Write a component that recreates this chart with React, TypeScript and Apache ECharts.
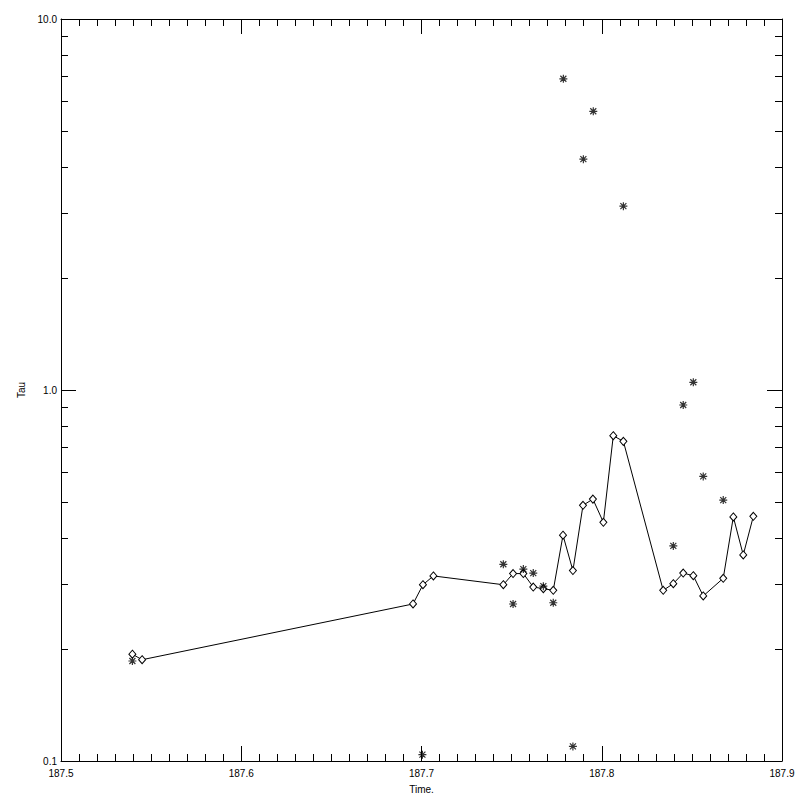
import React, { useEffect, useRef } from "react";
import * as echarts from "echarts";

const X_MIN = 187.5;
const X_MAX = 187.9;
const Y_MIN = 0.1;
const Y_MAX = 10;

// Diamond series (connected line)
const diamondTimes = [
  187.5396, 187.545, 187.6953, 187.7008, 187.7066, 187.7454, 187.7508, 187.7565,
  187.762, 187.7676, 187.7731, 187.7785, 187.784, 187.7896, 187.7951, 187.8009,
  187.8064, 187.812, 187.8341, 187.8397, 187.8452, 187.8508, 187.8563, 187.8674,
  187.873, 187.8785, 187.8841,
];
const diamondTau = [
  0.194, 0.1875, 0.265, 0.2986, 0.3154, 0.2986, 0.32, 0.32,
  0.2944, 0.2914, 0.2884, 0.406, 0.326, 0.489, 0.508, 0.44,
  0.753, 0.727, 0.2884, 0.3006, 0.321, 0.3158, 0.2785, 0.3108,
  0.4548, 0.3593, 0.4566,
];

// Asterisk series (points only)
const starTimes = [
  187.5396, 187.7005, 187.7454, 187.7508, 187.7565, 187.762, 187.7676, 187.7731,
  187.7787, 187.784, 187.7898, 187.7953, 187.812, 187.8397, 187.8452, 187.8508,
  187.8563, 187.8674,
];
const starTau = [
  0.186, 0.104, 0.339, 0.265, 0.329, 0.321, 0.296, 0.267,
  6.9, 0.1095, 4.19, 5.64, 3.13, 0.38, 0.911, 1.049,
  0.585, 0.505,
];

// Log-axis minor tick values
const yMinorTicks = [0.2, 0.3, 0.4, 0.5, 0.6, 0.7, 0.8, 0.9, 2, 3, 4, 5, 6, 7, 8, 9];

const FONT = "Liberation Sans";

export default function App() {
  const ref = useRef<HTMLDivElement>(null);
  useEffect(() => {
    if (!ref.current) return;
    const chart = echarts.init(ref.current, null, { renderer: "svg" });
    const axisLine = { show: true, lineStyle: { color: "#000", width: 1 } };
    const xCommon = {
      type: "value" as const,
      min: X_MIN,
      max: X_MAX,
      interval: 0.1,
      axisLine,
      splitLine: { show: false },
      axisTick: { show: true, inside: true, length: 15, lineStyle: { color: "#000" } },
      minorTick: { show: true, splitNumber: 10, length: 7, lineStyle: { color: "#000" } },
    };
    const yCommon = {
      type: "log" as const,
      logBase: 10,
      min: Y_MIN,
      max: Y_MAX,
      axisLine,
      splitLine: { show: false },
      axisTick: { show: true, inside: true, length: 15, lineStyle: { color: "#000" } },
    };
    const option: any = {
      animation: false,
      backgroundColor: "#fff",
      grid: { left: 61, right: 18, top: 19, bottom: 39 },
      xAxis: [
        {
          ...xCommon,
          position: "bottom",
          name: "Time.",
          nameLocation: "middle",
          nameGap: 23,
          nameTextStyle: { color: "#000", fontFamily: FONT, fontSize: 10 },
          axisLabel: {
            show: true,
            margin: 7,
            color: "#000",
            fontFamily: FONT,
            fontSize: 10,
            formatter: (v: number) => v.toFixed(1),
          },
        },
        {
          ...xCommon,
          position: "top",
          axisLabel: { show: false },
        },
      ],
      yAxis: [
        {
          ...yCommon,
          position: "left",
          name: "Tau",
          nameLocation: "middle",
          nameGap: 34,
          nameTextStyle: { color: "#000", fontFamily: FONT, fontSize: 10 },
          axisLabel: {
            show: true,
            margin: 4,
            color: "#000",
            fontFamily: FONT,
            fontSize: 10,
            formatter: (v: number) => v.toFixed(1),
          },
        },
        {
          ...yCommon,
          position: "right",
          axisLabel: { show: false },
        },
      ],
      series: [
        {
          type: "custom",
          xAxisIndex: 0,
          yAxisIndex: 0,
          clip: false,
          silent: true,
          encode: { x: 0, y: 1 },
          data: yMinorTicks.map((v) => [X_MIN, v]),
          renderItem: (params: any, api: any) => {
            const v = api.value(1);
            const pL = api.coord([X_MIN, v]);
            const pR = api.coord([X_MAX, v]);
            const yl = Math.round(pL[1]) + 0.5;
            const style = { stroke: "#000", lineWidth: 1 };
            return {
              type: "group",
              children: [
                { type: "line", shape: { x1: pL[0], y1: yl, x2: pL[0] + 7, y2: yl }, style },
                { type: "line", shape: { x1: pR[0] - 7, y1: yl, x2: pR[0], y2: yl }, style },
              ],
            };
          },
        },
        {
          type: "line",
          xAxisIndex: 0,
          yAxisIndex: 0,
          data: diamondTimes.map((t, i) => [t, diamondTau[i]]),
          symbol: "diamond",
          symbolSize: [7, 8],
          showAllSymbol: true,
          lineStyle: { color: "#000", width: 1 },
          itemStyle: { color: "#fff", borderColor: "#000", borderWidth: 1 },
          clip: false,
          z: 3,
        },
        {
          type: "scatter",
          xAxisIndex: 0,
          yAxisIndex: 0,
          data: starTimes.map((t, i) => [t, starTau[i]]),
          symbol: "path://M0 4 L8 4 M4 0 L4 8 M1 1 L7 7 M1 7 L7 1",
          symbolSize: 8,
          itemStyle: { color: "none", borderColor: "#000", borderWidth: 1.2 },
          clip: false,
          z: 4,
        },
      ],
    };
    chart.setOption(option);
    return () => chart.dispose();
  }, []);
  return (
    <div
      ref={ref}
      style={{ position: "fixed", left: 0, top: 0, width: 800, height: 800, background: "#fff" }}
    />
  );
}
